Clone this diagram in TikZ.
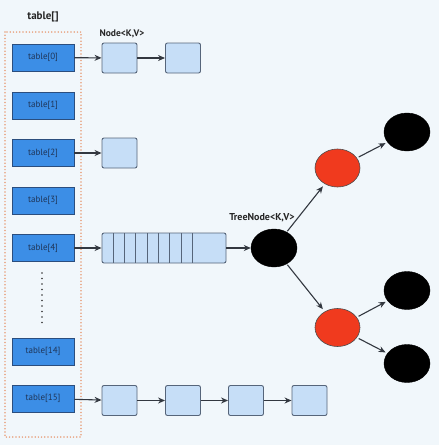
\documentclass[tikz,border=0pt]{standalone}
\usepackage{fontspec}
\setmainfont{PT Sans}
\usetikzlibrary{arrows.meta,shapes.geometric}
\definecolor{bgc}{HTML}{F1F7FB}
\definecolor{tblfill}{HTML}{3C8EE6}
\definecolor{tbldraw}{HTML}{2B4E7E}
\definecolor{tbltext}{HTML}{1F3558}
\definecolor{nodefill}{HTML}{C6DEF7}
\definecolor{nodedraw}{HTML}{56657A}
\definecolor{rbred}{HTML}{F03A1E}
\definecolor{dotorange}{HTML}{E8A07C}
\definecolor{arrowc}{HTML}{333840}
\tikzset{
  tbl/.style={draw=tbldraw, fill=tblfill, line width=0.9pt, minimum width=62pt, minimum height=27pt, inner sep=0pt, font=\fontsize{9}{10}\selectfont, text=tbltext},
  lnode/.style={draw=nodedraw, fill=nodefill, line width=0.9pt, rounded corners=2pt, minimum width=35pt, minimum height=30pt, inner sep=0pt},
  blk/.style={ellipse, fill=black, draw=black, minimum width=46pt, minimum height=38pt, inner sep=0pt},
  rd/.style={ellipse, fill=rbred, draw=black!70, line width=0.6pt, minimum width=45pt, minimum height=38pt, inner sep=0pt},
  arr/.style={draw=arrowc, line width=1.1pt, -{Stealth[length=7pt,width=6pt]}},
  lbl/.style={font=\bfseries\fontsize{9.5}{11}\selectfont, text=black!85, inner sep=0pt}
}
\begin{document}
\begin{tikzpicture}[x=1pt,y=-1pt]
\fill[bgc] (0,0) rectangle (439,445);
\useasboundingbox (0,0) rectangle (439,445);
% dotted frame
\draw[dotorange, line width=1.7pt, line cap=round, dash pattern=on 0pt off 3.2pt] (5,32) rectangle (81,437);
\node[lbl, font=\bfseries\fontsize{11}{13}\selectfont] (tlabel) at (43,17) {table[]};
% table cells
\node[tbl] (t0) at (43,57.5) {table[0]};
\node[tbl] (t1) at (43,105.5) {table[1]};
\node[tbl] (t2) at (43,153) {table[2]};
\node[tbl] (t3) at (43,200.5) {table[3]};
\node[tbl] (t4) at (43,248) {table[4]};
\node[tbl] (t14) at (43,351.5) {table[14]};
\node[tbl] (t15) at (43,398.5) {table[15]};
% vertical dots
\draw[black!80, line width=1.8pt, line cap=round, dash pattern=on 0pt off 5.5pt] (42,273) -- (42,327);
% row 0
\node[lbl] (nlabel) at (122,34) {Node<K,V>};
\node[lnode] (a1) at (119.5,58) {};
\node[lnode] (a2) at (183,58) {};
\draw[arr] (t0) -- (a1);
\draw[arr] (a1) -- (a2);
% row 2
\node[lnode] (b1) at (119.5,153) {};
\draw[arr] (t2) -- (b1);
% row 4 list
\node[draw=nodedraw, fill=nodefill, line width=0.9pt, rounded corners=2pt, minimum width=124pt, minimum height=30pt, inner sep=0pt] (arrc) at (164,248) {};
\foreach \xx in {113.3,124.6,135.9,147.2,158.5,169.8,181.1,192.4}
  \draw[nodedraw, line width=0.9pt] (\xx,233) -- (\xx,263);
\draw[arr] (t4) -- (arrc);
% tree
\node[blk] (root) at (274,248) {};
\node[lbl, font=\bfseries\fontsize{10}{12}\selectfont] (tlab) at (262,218) {TreeNode<K,V>};
\node[rd] (r1) at (337.5,168) {};
\node[rd] (r2) at (337.5,327.5) {};
\node[blk] (k1) at (407,132) {};
\node[blk] (k2) at (407,290.5) {};
\node[blk] (k3) at (407,363.5) {};
\draw[arr] (arrc) -- (root);
\draw[arr, shorten <=1pt, shorten >=3pt] (root) -- (r1);
\draw[arr, shorten <=1pt, shorten >=3pt] (root) -- (r2);
\draw[arr, shorten <=2pt, shorten >=2pt] (r1) -- (k1);
\draw[arr, shorten <=2pt, shorten >=2pt] (r2) -- (k2);
\draw[arr, shorten <=2pt, shorten >=2pt] (r2) -- (k3);
% row 15
\node[lnode] (c1) at (119.5,400.5) {};
\node[lnode] (c2) at (183,400.5) {};
\node[lnode] (c3) at (246,400.5) {};
\node[lnode] (c4) at (309.5,400.5) {};
\draw[arr] (t15) -- (c1);
\draw[arr] (c1) -- (c2);
\draw[arr] (c2) -- (c3);
\draw[arr] (c3) -- (c4);
\end{tikzpicture}
\end{document}
